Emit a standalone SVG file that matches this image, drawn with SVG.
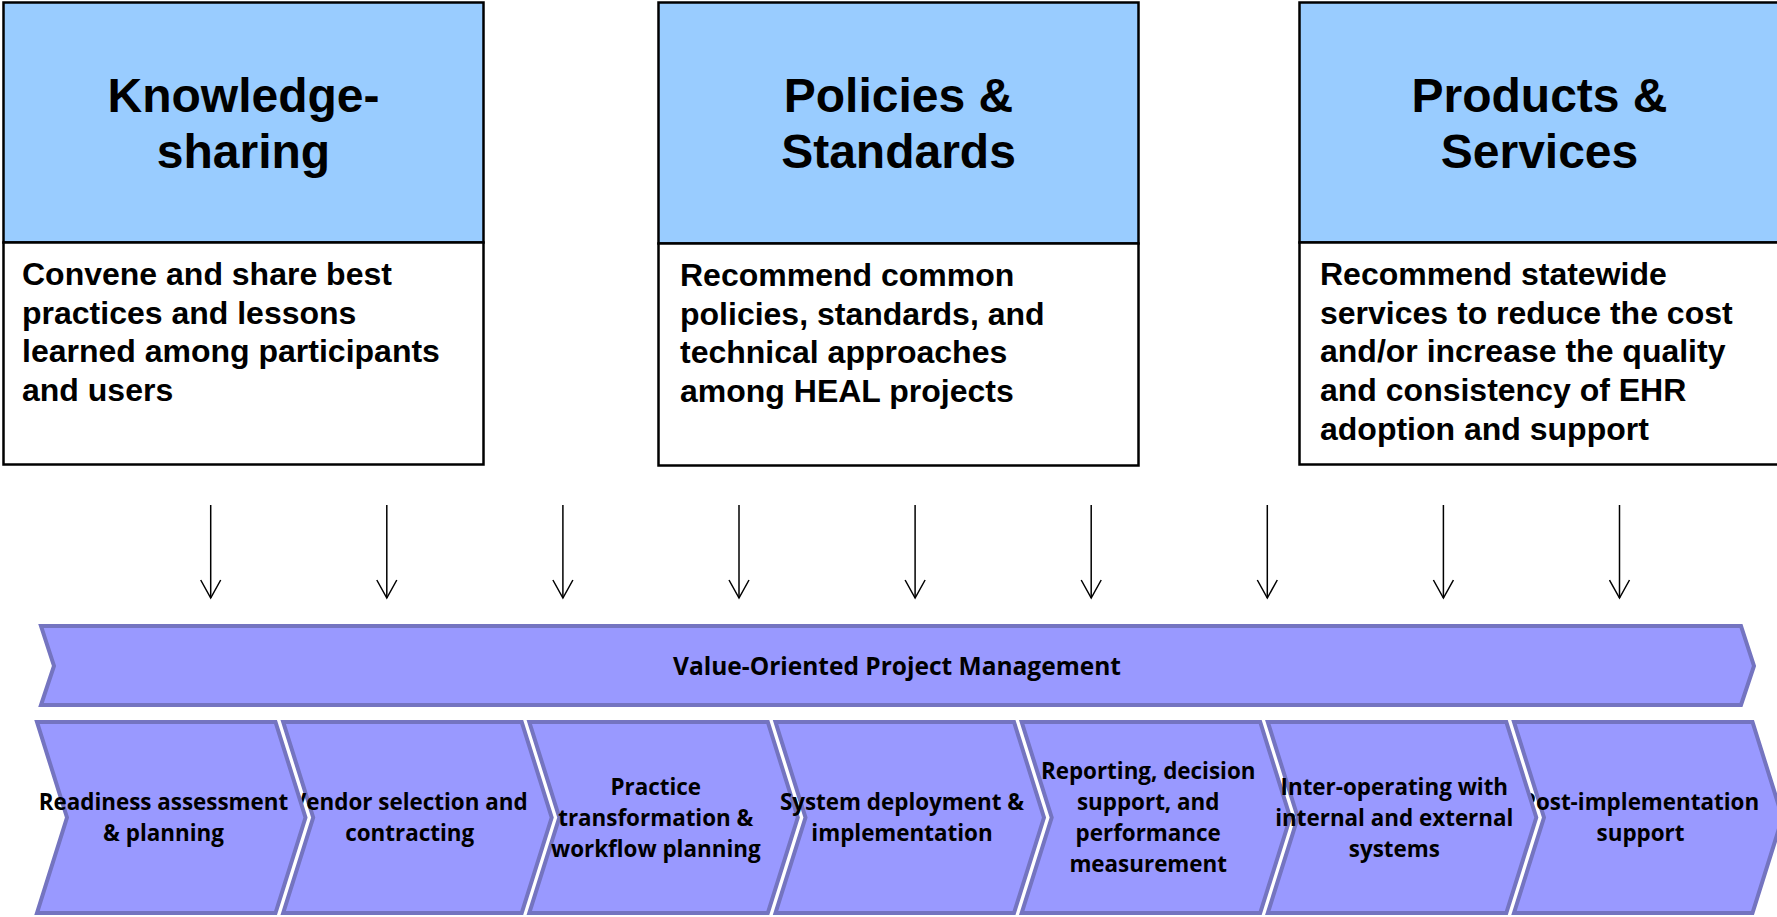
<svg xmlns="http://www.w3.org/2000/svg" width="1777" height="917" viewBox="0 0 1777 917">
<defs>
<style>
.hd{fill:#99ccff;stroke:#000;stroke-width:2.5}
.bd{fill:#fff;stroke:#000;stroke-width:2.5}
.ttl{font-family:"Liberation Sans",Arial,sans-serif;font-weight:bold;font-size:48px;fill:#000;text-anchor:middle}
.txt{font-family:"Liberation Sans",Arial,sans-serif;font-weight:bold;font-size:32px;fill:#000}
.chev{fill:#9999ff;stroke:#7474c0;stroke-width:4;stroke-linejoin:miter}
.ct{font-family:"Open Sans","Liberation Sans",sans-serif;font-weight:bold;font-size:22.4px;fill:#000;text-anchor:middle}
.vt{font-size:24.5px}
.arr{stroke:#000;stroke-width:1.5;fill:none}
</style>
<marker id="ah" markerUnits="userSpaceOnUse" markerWidth="22" markerHeight="22" viewBox="0 0 20 22" refX="18" refY="11" orient="auto">
<path d="M0,1 L18,11 L0,21" fill="none" stroke="#000" stroke-width="1.5"/>
</marker>
</defs>
<rect width="1777" height="917" fill="#fff"/>

<g id="knowledge-sharing">
<rect class="hd" x="3.5" y="2.5" width="480" height="240"/>
<rect class="bd" x="3.5" y="242.5" width="480" height="222"/>
<text class="ttl" x="243.5" y="112">Knowledge-</text>
<text class="ttl" x="243.5" y="168">sharing</text>
<text class="txt" x="22" y="285">Convene and share best</text>
<text class="txt" x="22" y="324">practices and lessons</text>
<text class="txt" x="22" y="362">learned among participants</text>
<text class="txt" x="22" y="401">and users</text>
</g>

<g id="policies-standards">
<rect class="hd" x="658.5" y="2.5" width="480" height="241"/>
<rect class="bd" x="658.5" y="243.5" width="480" height="222"/>
<text class="ttl" x="898.5" y="112">Policies &amp;</text>
<text class="ttl" x="898.5" y="168">Standards</text>
<text class="txt" x="680" y="286">Recommend common</text>
<text class="txt" x="680" y="325">policies, standards, and</text>
<text class="txt" x="680" y="363">technical approaches</text>
<text class="txt" x="680" y="402">among HEAL projects</text>
</g>

<g id="products-services">
<rect class="hd" x="1299.5" y="2.5" width="480" height="240"/>
<rect class="bd" x="1299.5" y="242.5" width="480" height="222"/>
<text class="ttl" x="1539.5" y="112">Products &amp;</text>
<text class="ttl" x="1539.5" y="168">Services</text>
<text class="txt" x="1320" y="285">Recommend statewide</text>
<text class="txt" x="1320" y="324">services to reduce the cost</text>
<text class="txt" x="1320" y="362">and/or increase the quality</text>
<text class="txt" x="1320" y="401">and consistency of EHR</text>
<text class="txt" x="1320" y="440">adoption and support</text>
</g>

<g id="connectors">
<line class="arr" x1="210.7" y1="505" x2="210.7" y2="598" marker-end="url(#ah)"/>
<line class="arr" x1="386.8" y1="505" x2="386.8" y2="598" marker-end="url(#ah)"/>
<line class="arr" x1="562.9" y1="505" x2="562.9" y2="598" marker-end="url(#ah)"/>
<line class="arr" x1="739" y1="505" x2="739" y2="598" marker-end="url(#ah)"/>
<line class="arr" x1="915.1" y1="505" x2="915.1" y2="598" marker-end="url(#ah)"/>
<line class="arr" x1="1091.2" y1="505" x2="1091.2" y2="598" marker-end="url(#ah)"/>
<line class="arr" x1="1267.3" y1="505" x2="1267.3" y2="598" marker-end="url(#ah)"/>
<line class="arr" x1="1443.4" y1="505" x2="1443.4" y2="598" marker-end="url(#ah)"/>
<line class="arr" x1="1619.5" y1="505" x2="1619.5" y2="598" marker-end="url(#ah)"/>
</g>

<g id="value-oriented-pm">
<path class="chev" d="M41,626 L1741,626 L1754,666 L1741,705 L41,705 L54,666 Z"/>
<text class="ct vt" x="897" y="675">Value-Oriented Project Management</text>
</g>

<g id="step-2">
<path class="chev" d="M283.2,722 L521.7,722 L551.7,817.5 L521.7,913 L283.2,913 L313.2,817.5 Z"/>
<text class="ct" x="409.7" y="810">Vendor selection and</text>
<text class="ct" x="409.7" y="841">contracting</text>
</g>

<g id="step-1">
<path class="chev" d="M37,722 L275.5,722 L305.5,817.5 L275.5,913 L37,913 L67,817.5 Z"/>
<text class="ct" x="163.5" y="810">Readiness assessment</text>
<text class="ct" x="163.5" y="841">&amp; planning</text>
</g>

<g id="step-3">
<path class="chev" d="M529.3,722 L767.8,722 L797.8,817.5 L767.8,913 L529.3,913 L559.3,817.5 Z"/>
<text class="ct" x="655.8" y="795">Practice</text>
<text class="ct" x="655.8" y="826">transformation &amp;</text>
<text class="ct" x="655.8" y="857">workflow planning</text>
</g>

<g id="step-4">
<path class="chev" d="M775.5,722 L1014,722 L1044,817.5 L1014,913 L775.5,913 L805.5,817.5 Z"/>
<text class="ct" x="902" y="810">System deployment &amp;</text>
<text class="ct" x="902" y="841">implementation</text>
</g>

<g id="step-5">
<path class="chev" d="M1021.7,722 L1260.2,722 L1290.2,817.5 L1260.2,913 L1021.7,913 L1051.7,817.5 Z"/>
<text class="ct" x="1148.2" y="779">Reporting, decision</text>
<text class="ct" x="1148.2" y="810">support, and</text>
<text class="ct" x="1148.2" y="841">performance</text>
<text class="ct" x="1148.2" y="872">measurement</text>
</g>

<g id="step-7">
<path class="chev" d="M1514,722 L1752.5,722 L1782.5,817.5 L1752.5,913 L1514,913 L1544,817.5 Z"/>
<text class="ct" x="1640.5" y="810">Post-implementation</text>
<text class="ct" x="1640.5" y="841">support</text>
</g>

<g id="step-6">
<path class="chev" d="M1267.8,722 L1506.3,722 L1536.3,817.5 L1506.3,913 L1267.8,913 L1297.8,817.5 Z"/>
<text class="ct" x="1394.3" y="795">Inter-operating with</text>
<text class="ct" x="1394.3" y="826">internal and external</text>
<text class="ct" x="1394.3" y="857">systems</text>
</g>
</svg>
